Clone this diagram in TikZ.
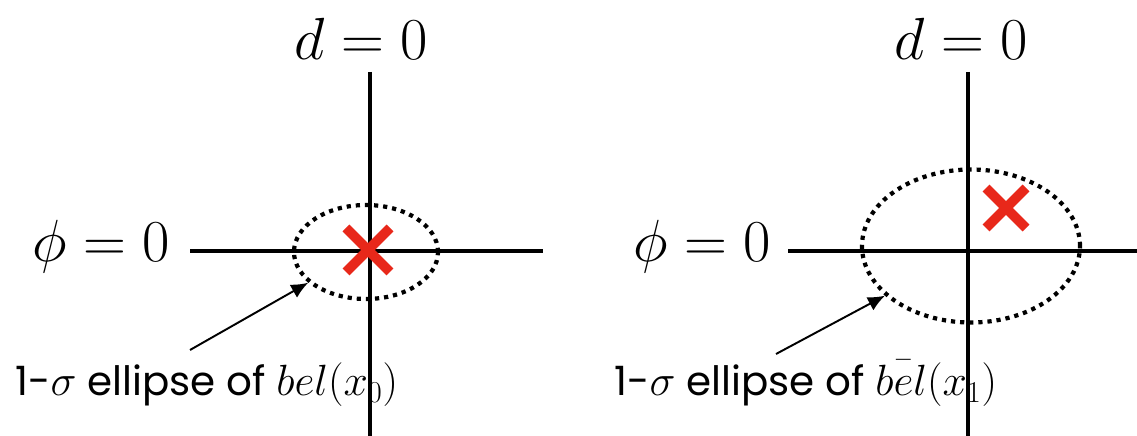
\documentclass[tikz,border=0pt]{standalone}
\usepackage{fontspec}
\setmainfont{Poppins}
\usepackage{tikz}
\usetikzlibrary{arrows.meta,calc,positioning,shapes.geometric}
\definecolor{BelAxis}{HTML}{000000}
\definecolor{BelMark}{HTML}{E8281A}

\begin{document}
\begin{tikzpicture}[
    axisline/.style={BelAxis,line width=2.5pt},
    sigmaell/.style={
      ellipse,draw=BelAxis,line width=2.4pt,
      dash pattern=on 2.4pt off 2.8pt,inner sep=0pt
    },
    markx/.style={BelMark,line width=5.6pt},
    pointer/.style={-{Latex[length=3.4mm,width=3mm]},line width=1.1pt},
    axislab/.style={font=\Huge,scale=1.36},
    elllab/.style={anchor=base west,inner sep=0pt,font=\fontsize{23}{28}\selectfont}
  ]

    \useasboundingbox (0,0) rectangle (22.74,8.72);

    % labels under the axes
    \node[elllab] (lText) at (0.30,0.80)
      {1-$\sigma$ ellipse of $bel(x_0)$};
    \node[elllab] (rText) at (12.28,0.80)
      {1-$\sigma$ ellipse of $b\bar{\vphantom{b}e}l(x_1)$};

    % left panel: bel(x_0)
    \coordinate (lW) at (3.80,3.70);
    \coordinate (lE) at (10.86,3.70);
    \coordinate (lN) at (7.40,7.28);
    \coordinate (lS) at (7.40,0);
    \draw[axisline] (lW) -- (lE);
    \draw[axisline] (lN) -- (lS);

    \node[axislab] (lD) at (7.22,7.94) {$d=0$};
    \node[axislab] (lPhi) at (2.02,3.78) {$\phi=0$};

    \node[sigmaell,minimum width=2.88cm,minimum height=1.88cm]
      (lEll) at (7.32,3.68) {};

    \coordinate (lX) at (7.36,3.72);
    \draw[markx] ($(lX)+(-0.44,-0.44)$) -- ($(lX)+(0.44,0.44)$);
    \draw[markx] ($(lX)+(-0.44,0.44)$) -- ($(lX)+(0.44,-0.44)$);

    \coordinate (lTail) at (3.80,1.72);
    \draw[pointer] (lTail) -- (lEll.208);

    % right panel: predicted bel(x_1)
    \coordinate (rW) at (15.76,3.70);
    \coordinate (rE) at (22.74,3.70);
    \coordinate (rN) at (19.36,7.28);
    \coordinate (rS) at (19.36,0);
    \draw[axisline] (rW) -- (rE);
    \draw[axisline] (rN) -- (rS);

    \node[axislab] (rD) at (19.22,7.94) {$d=0$};
    \node[axislab] (rPhi) at (14.04,3.78) {$\phi=0$};

    \node[sigmaell,minimum width=4.36cm,minimum height=3.06cm]
      (rEll) at (19.42,3.80) {};

    \coordinate (rX) at (20.12,4.56);
    \draw[markx] ($(rX)+(-0.40,-0.40)$) -- ($(rX)+(0.40,0.40)$);
    \draw[markx] ($(rX)+(-0.40,0.40)$) -- ($(rX)+(0.40,-0.40)$);

    \coordinate (rTail) at (15.52,1.64);
    \draw[pointer] (rTail) -- (rEll.210);

  \end{tikzpicture}
\end{document}
